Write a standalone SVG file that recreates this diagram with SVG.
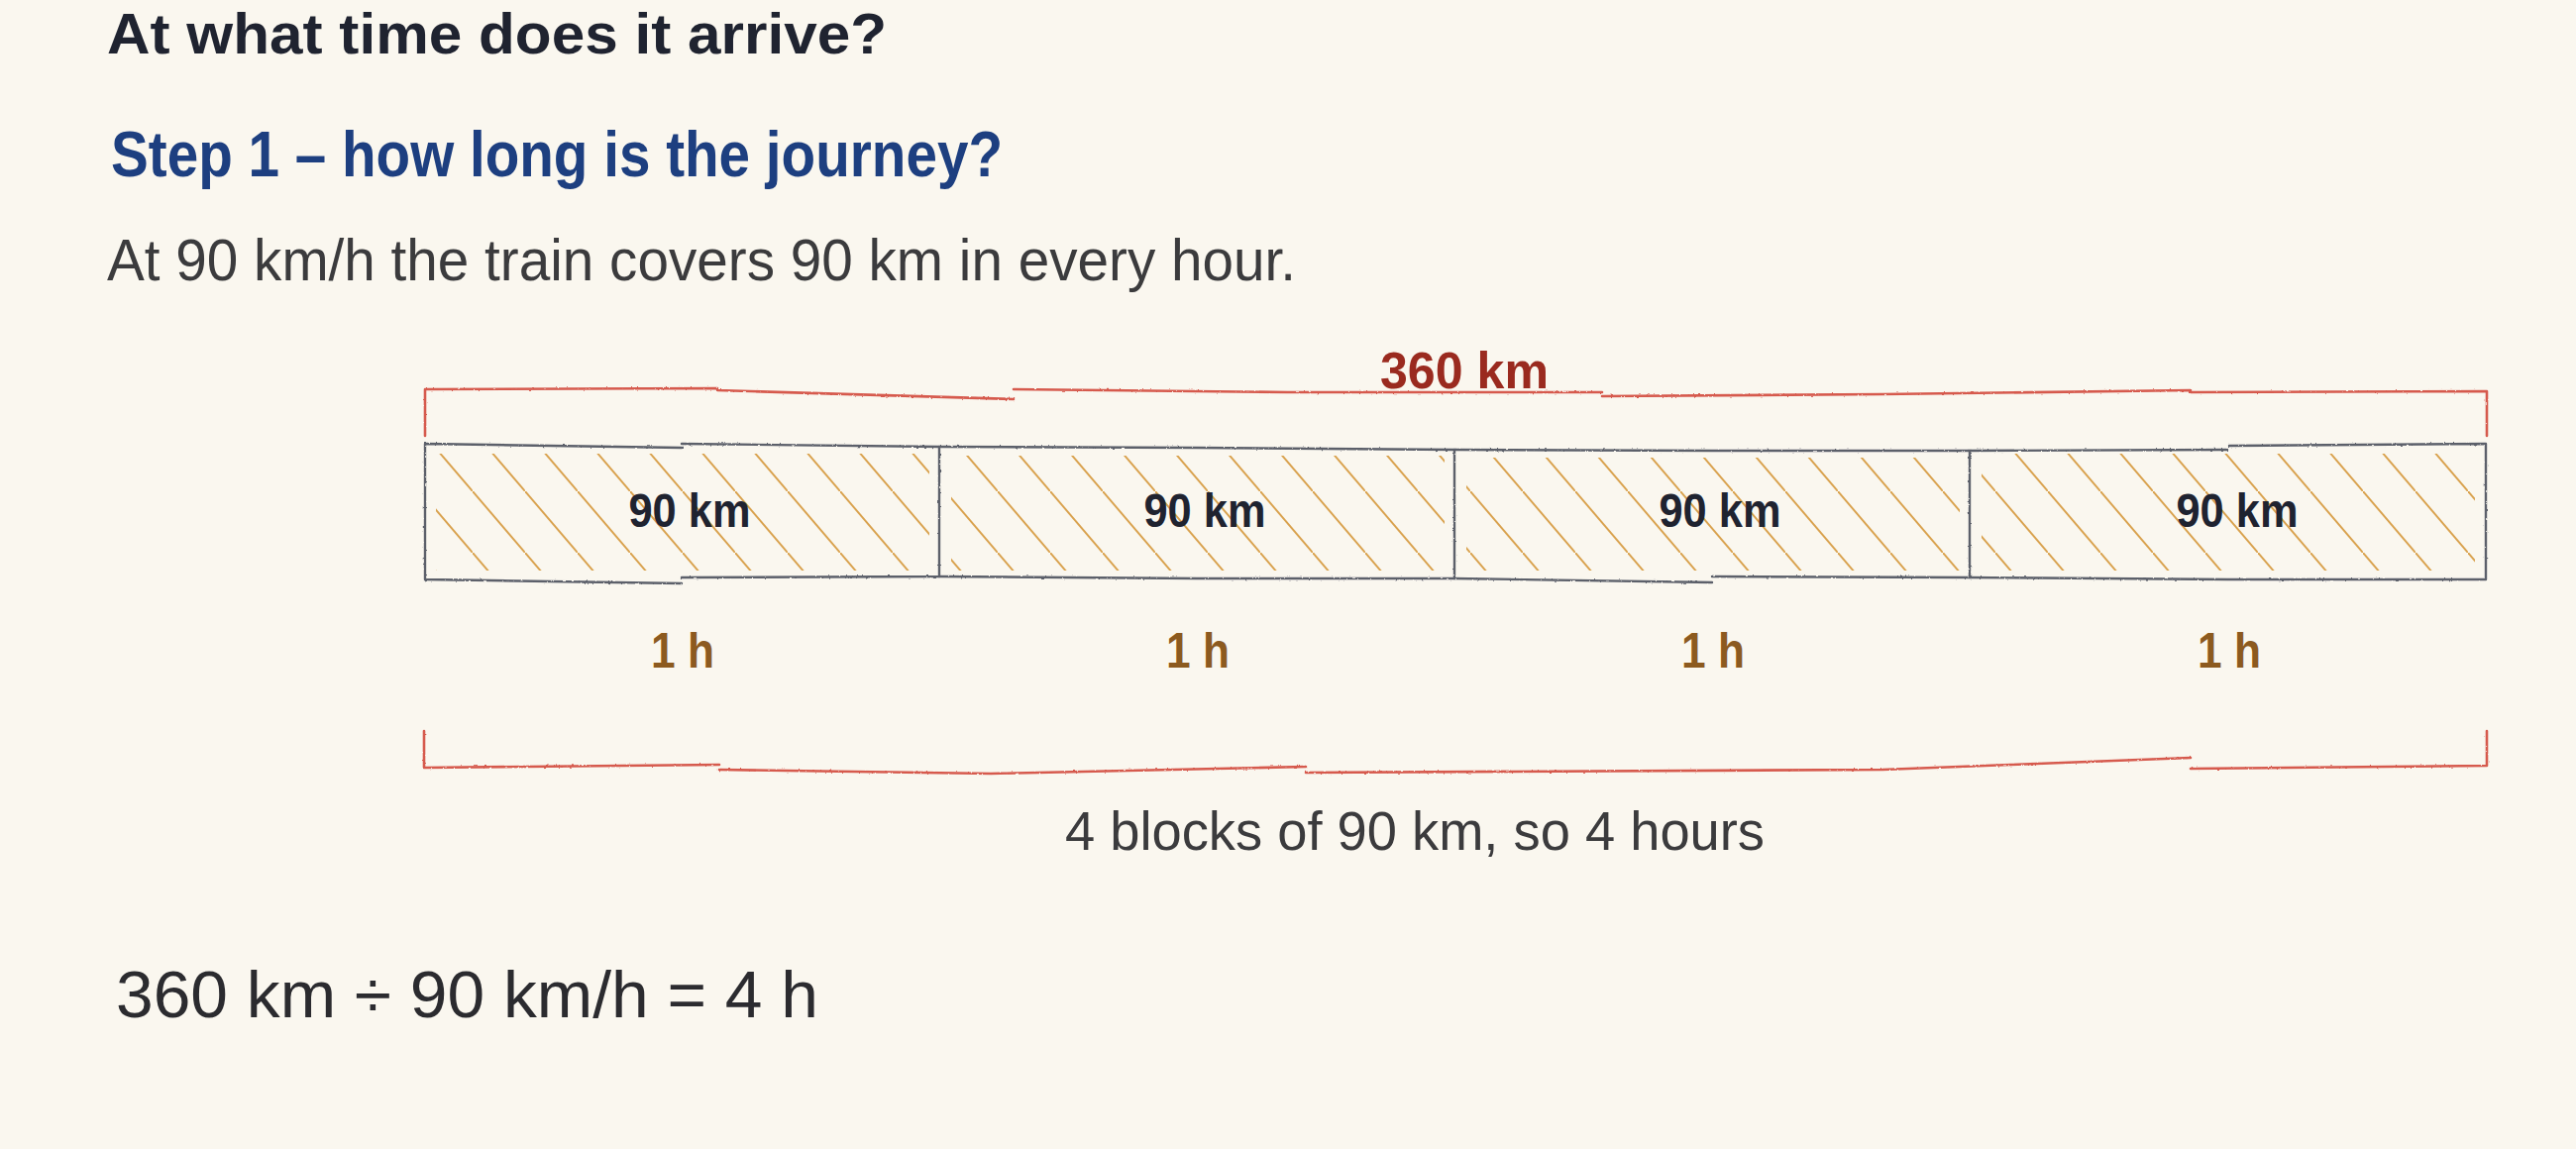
<svg xmlns="http://www.w3.org/2000/svg" width="2600" height="1160" viewBox="0 0 2600 1160">
<style>
.hand{font-family:"Liberation Sans","DejaVu Sans",sans-serif}
.title{font-size:58px;font-weight:700;fill:#1f2330}
.step{font-size:64px;font-weight:700;fill:#1d3f80}
.body{font-size:60px;fill:#3b3b3d}
.total{font-size:52px;font-weight:700;fill:#9a2a1f}
.km{font-size:48px;font-weight:700;fill:#1f2330}
.hr{font-size:50px;font-weight:700;fill:#8c5a1f}
.note{font-size:56px;fill:#3b3b3d}
.eq{font-size:66px;fill:#2b2b2f}
.bracket{fill:none;stroke:#d65a4e;stroke-width:2.6;stroke-linecap:round;stroke-linejoin:round}
.box{fill:none;stroke:#5c606b;stroke-width:2.4;stroke-linecap:round;stroke-linejoin:round}
.hatchfill{fill:url(#hatch)}
</style>
<defs>
<pattern id="hatch" patternUnits="userSpaceOnUse" width="53" height="62">
<path d="M-2,-2.3 L55,64.3" stroke="#d9a24e" stroke-width="2" fill="none"/>
</pattern>
<filter id="rough" x="-2%" y="-20%" width="104%" height="140%">
<feTurbulence type="fractalNoise" baseFrequency="0.35" numOctaves="2" seed="3" result="n"/>
<feDisplacementMap in="SourceGraphic" in2="n" scale="2.2" xChannelSelector="R" yChannelSelector="G"/>
</filter>
</defs>
<rect width="2600" height="1160" fill="#faf7ef"/>

<g id="title">
<text class="hand title" x="108" y="54" textLength="787" lengthAdjust="spacingAndGlyphs">At what time does it arrive?</text>
</g>
<g id="step1">
<text class="hand step" x="112" y="178" textLength="900" lengthAdjust="spacingAndGlyphs">Step 1 – how long is the journey?</text>
</g>
<g id="sentence">
<text class="hand body" x="108" y="283" textLength="1200" lengthAdjust="spacingAndGlyphs">At 90 km/h the train covers 90 km in every hour.</text>
</g>

<g id="connectors">
<path id="top-bracket" class="bracket" filter="url(#rough)" d="M429,440 L429,393 L724,392 M724,394 L1023,403 M1023,393 L1300,396 L1617,396 M1617,400 L1900,398 L2211,394 M2211,396 L2510,395 L2510,440"/>
<path id="bottom-bracket" class="bracket" filter="url(#rough)" d="M428,738 L428,775 L726,772 M726,777 L1000,781 L1318,774 M1318,780 L1900,777 L2211,765 M2211,776 L2510,773 L2510,738"/>
</g>

<g id="total-label">
<text class="hand total" x="1393" y="392" textLength="170" lengthAdjust="spacingAndGlyphs">360 km</text>
</g>

<g id="block1">
<rect class="hatchfill" x="440" y="458" width="498" height="118"/>
<path class="box" filter="url(#rough)" d="M429,448 L688,452 M688,448 L948,451 L948,582 L688,583 M688,589 L429,585 Z M429,448 L429,585"/>
<text class="hand km" x="696" y="532" text-anchor="middle" textLength="123" lengthAdjust="spacingAndGlyphs">90 km</text>
<text class="hand hr" x="689" y="674" text-anchor="middle" textLength="64" lengthAdjust="spacingAndGlyphs">1 h</text>
</g>
<g id="block2">
<rect class="hatchfill" x="960" y="460" width="498" height="116"/>
<path class="box" filter="url(#rough)" d="M948,451 L1208,452 L1468,454 L1468,584 L1208,584 L948,582"/>
<text class="hand km" x="1216" y="532" text-anchor="middle" textLength="123" lengthAdjust="spacingAndGlyphs">90 km</text>
<text class="hand hr" x="1209" y="674" text-anchor="middle" textLength="64" lengthAdjust="spacingAndGlyphs">1 h</text>
</g>
<g id="block3">
<rect class="hatchfill" x="1480" y="462" width="498" height="114"/>
<path class="box" filter="url(#rough)" d="M1468,454 L1728,455 L1988,455 L1988,583 L1728,582 M1728,588 L1468,584"/>
<text class="hand km" x="1736" y="532" text-anchor="middle" textLength="123" lengthAdjust="spacingAndGlyphs">90 km</text>
<text class="hand hr" x="1729" y="674" text-anchor="middle" textLength="64" lengthAdjust="spacingAndGlyphs">1 h</text>
</g>
<g id="block4">
<rect class="hatchfill" x="2000" y="458" width="498" height="118"/>
<path class="box" filter="url(#rough)" d="M1988,455 L2248,454 M2250,450 L2509,448 L2509,585 L2248,585 L1988,583"/>
<text class="hand km" x="2258" y="532" text-anchor="middle" textLength="123" lengthAdjust="spacingAndGlyphs">90 km</text>
<text class="hand hr" x="2250" y="674" text-anchor="middle" textLength="64" lengthAdjust="spacingAndGlyphs">1 h</text>
</g>

<g id="summary-label">
<text class="hand note" x="1075" y="858" textLength="706" lengthAdjust="spacingAndGlyphs">4 blocks of 90 km, so 4 hours</text>
</g>
<g id="equation">
<text class="hand eq" x="117" y="1027" textLength="709" lengthAdjust="spacingAndGlyphs">360 km ÷ 90 km/h = 4 h</text>
</g>
</svg>
